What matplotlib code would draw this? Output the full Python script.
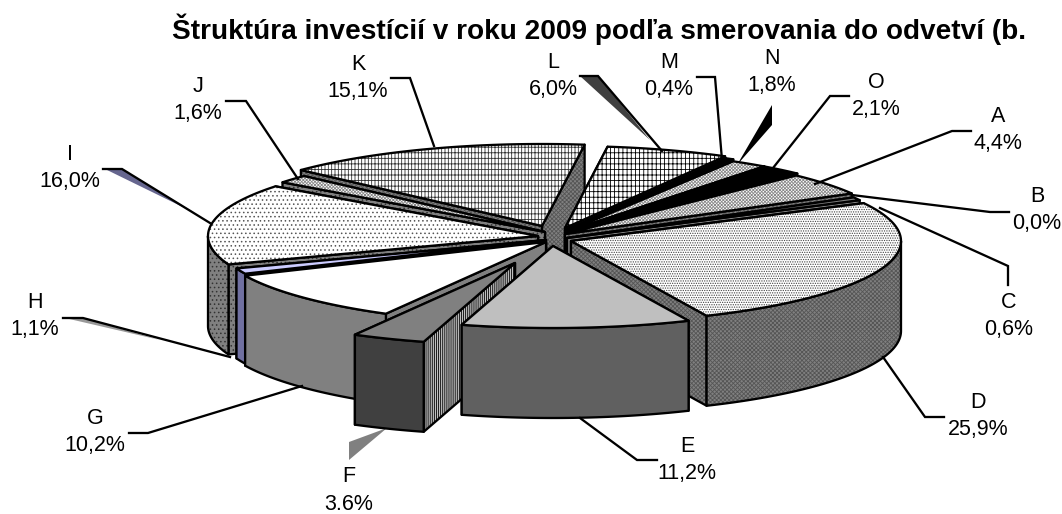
import numpy as np
from matplotlib import pyplot as plt
from matplotlib.patches import Polygon

plt.rcParams['font.family'] = ['Liberation Sans', 'DejaVu Sans']
plt.rcParams['hatch.linewidth'] = 0.6

TITLE = "Štruktúra investícií v roku 2009 podľa smerovania do odvetví (b."
CATEGORIES = ["A", "B", "C", "D", "E", "F", "G", "H", "I", "J", "K", "L", "M", "N", "O"]
VALUES = [4.4, 0.0, 0.6, 25.9, 11.2, 3.6, 10.2, 1.1, 16.0, 1.6, 15.1, 6.0, 0.4, 1.8, 2.1]
VALUE_LABELS = ["4,4%", "0,0%", "0,6%", "25,9%", "11,2%", "3.6%", "10,2%", "1,1%",
                "16,0%", "1,6%", "15,1%", "6,0%", "0,4%", "1,8%", "2,1%"]

# pie geometry, in pixels of the output picture
START_ANGLE = 44.5
RX = 330
RY = 82
DEPTH = 90
LW = 1.65

# where each slice's tip sits
TIP_X = [565, 567, 567, 571, 553, 515, 546, 546, 538, 545, 542, 565, 566, 566, 566]
TIP_Y = [234, 235, 238, 241, 246, 263, 242, 240, 236, 232, 226, 228, 230, 232, 232]

TOP_COLOR = ['white', '#808080', '#808080', 'white', '#BFBFBF', '#808080', 'white', '#CCCCFF',
             'white', 'white', 'white', 'white', 'black', 'white', 'black']
TOP_HATCH = ['xxxxxxxxxx', None, None, '.......', None, None, None, None,
             '....', 'xxxxxxxxxx', '---|||||', '---||||', None, 'xxxxxxxxxx', None]
TOP_HATCH_COLOR = ['#8a8a8a', None, None, '#444444', None, None, None, None,
                   '#555555', '#8a8a8a', '#333333', 'black', None, '#8a8a8a', None]
SIDE_COLOR = ['#808080', '#404040', '#808080', '#808080', '#606060', '#404040', '#808080', '#7070A0',
              '#808080', '#808080', '#808080', '#808080', 'black', 'black', 'black']
SIDE_HATCH = ['xxxxxxxx', None, None, 'xxxxxxxx', None, None, None, None,
              '....', '....', 'xxxxxxxx', 'xxxxxxxx', None, None, None]
SIDE_HATCH_COLOR = ['#555555', None, None, '#555555', None, None, None, None,
                    '#333333', '#333333', '#555555', '#555555', None, None, None]

# back to front
DRAW_ORDER = ["K", "L", "M", "N", "O", "A", "B", "C", "J", "I", "H", "D", "G", "F", "E"]

LABEL_X = [998, 1037, 1009, 978, 687, 349, 95, 35, 70, 198, 358, 553, 669, 772, 876]
LABEL_Y = [117, 197, 302, 403, 446, 477, 418, 303, 155, 87, 65, 63, 63, 58, 82]
LABEL_GAP = 27

LEADERS = [
    [(971, 131), (952, 131), (815, 184)],
    [(1009, 212), (990, 212), (852, 195)],
    [(1008, 285), (1008, 266), (880, 208)],
    [(944, 417), (925, 417), (883, 357)],
    [(657, 460), (637, 460), (580, 418)],
    [(129, 433), (148, 433), (302, 386)],
    [(63, 318), (83, 318), (230, 357)],
    [(103, 169), (122, 169), (210, 223)],
    [(226, 101), (246, 101), (298, 179)],
    [(391, 78), (410, 78), (434, 146)],
    [(580, 76), (598, 76), (662, 151)],
    [(697, 77), (715, 77), (722, 160)],
    [(849, 96), (830, 96), (773, 168)],
]
LEADER_SHADOWS = [
    ([(105, 169), (122, 169), (195, 213)], '#66668F'),
    ([(65, 318), (83, 318), (160, 340)], '#999999'),
    ([(580, 76), (598, 76), (650, 140)], '#404040'),
    ([(772, 105), (772, 125), (737, 165)], 'black'),
    ([(349, 442), (349, 460), (387, 428)], '#808080'),
]


def arc_points(tip, a0, a1):
    angles = np.radians(np.linspace(a0, a1, max(2, int(abs(a1 - a0)) + 2)))
    return np.column_stack([tip[0] + RX * np.sin(angles), tip[1] - RY * np.cos(angles)])


def add_poly(ax, pts, color, hatch=None, hatch_color=None):
    if hatch:
        ax.add_patch(Polygon(pts, closed=True, facecolor=color, edgecolor=hatch_color, hatch=hatch, lw=0))
    else:
        ax.add_patch(Polygon(pts, closed=True, facecolor=color, edgecolor='none', lw=0))
    ax.add_patch(Polygon(pts, closed=True, fill=False, edgecolor='black', lw=LW, joinstyle='round'))


def draw_slice(ax, i, a0, a1):
    tip = (TIP_X[i], TIP_Y[i])
    arc = arc_points(tip, a0, a1)
    down = np.array([0, DEPTH])
    side = (SIDE_COLOR[i], SIDE_HATCH[i], SIDE_HATCH_COLOR[i])

    # radial walls, the one further back first
    ends = [arc[0], arc[-1]] if arc[0][1] < arc[-1][1] else [arc[-1], arc[0]]
    for p in ends:
        wall = np.array([tip, p, p + down, np.array(tip) + down])
        if CATEGORIES[i] == "F":
            add_poly(ax, wall, '#C0C0C0', '||||||||', 'black')
        else:
            add_poly(ax, wall, *side)

    # outer wall, only the part facing the viewer
    f0, f1 = max(a0, 90), min(a1, 270)
    if f1 > f0:
        front = arc_points(tip, f0, f1)
        add_poly(ax, np.vstack([front, front[::-1] + down]), *side)

    add_poly(ax, np.vstack([[tip], arc]), TOP_COLOR[i], TOP_HATCH[i], TOP_HATCH_COLOR[i])


fig = plt.figure(figsize=(10.62, 5.14), dpi=100)
ax = fig.add_axes([0, 0, 1, 1])
ax.set_xlim(0, 1062)
ax.set_ylim(514, 0)
ax.axis('off')

ax.text(172, 39, TITLE, fontsize=20.2, fontweight='bold', ha='left', va='baseline', color='black')

for pts, color in LEADER_SHADOWS:
    ax.add_patch(Polygon(pts, closed=True, facecolor=color, edgecolor='none'))
for line in LEADERS:
    xs, ys = zip(*line)
    ax.plot(xs, ys, color='black', lw=LW, solid_joinstyle='miter')

shares = np.array(VALUES) / sum(VALUES) * 360
starts = START_ANGLE + np.concatenate([[0], np.cumsum(shares)[:-1]])
for name in DRAW_ORDER:
    i = CATEGORIES.index(name)
    if VALUES[i] > 0:
        draw_slice(ax, i, starts[i], starts[i] + shares[i])

for i, name in enumerate(CATEGORIES):
    ax.text(LABEL_X[i], LABEL_Y[i], name, fontsize=15.5, ha='center', va='center', color='black')
    ax.text(LABEL_X[i], LABEL_Y[i] + LABEL_GAP, VALUE_LABELS[i], fontsize=15.5, ha='center', va='center', color='black')

fig.savefig('out.png', dpi=100)
